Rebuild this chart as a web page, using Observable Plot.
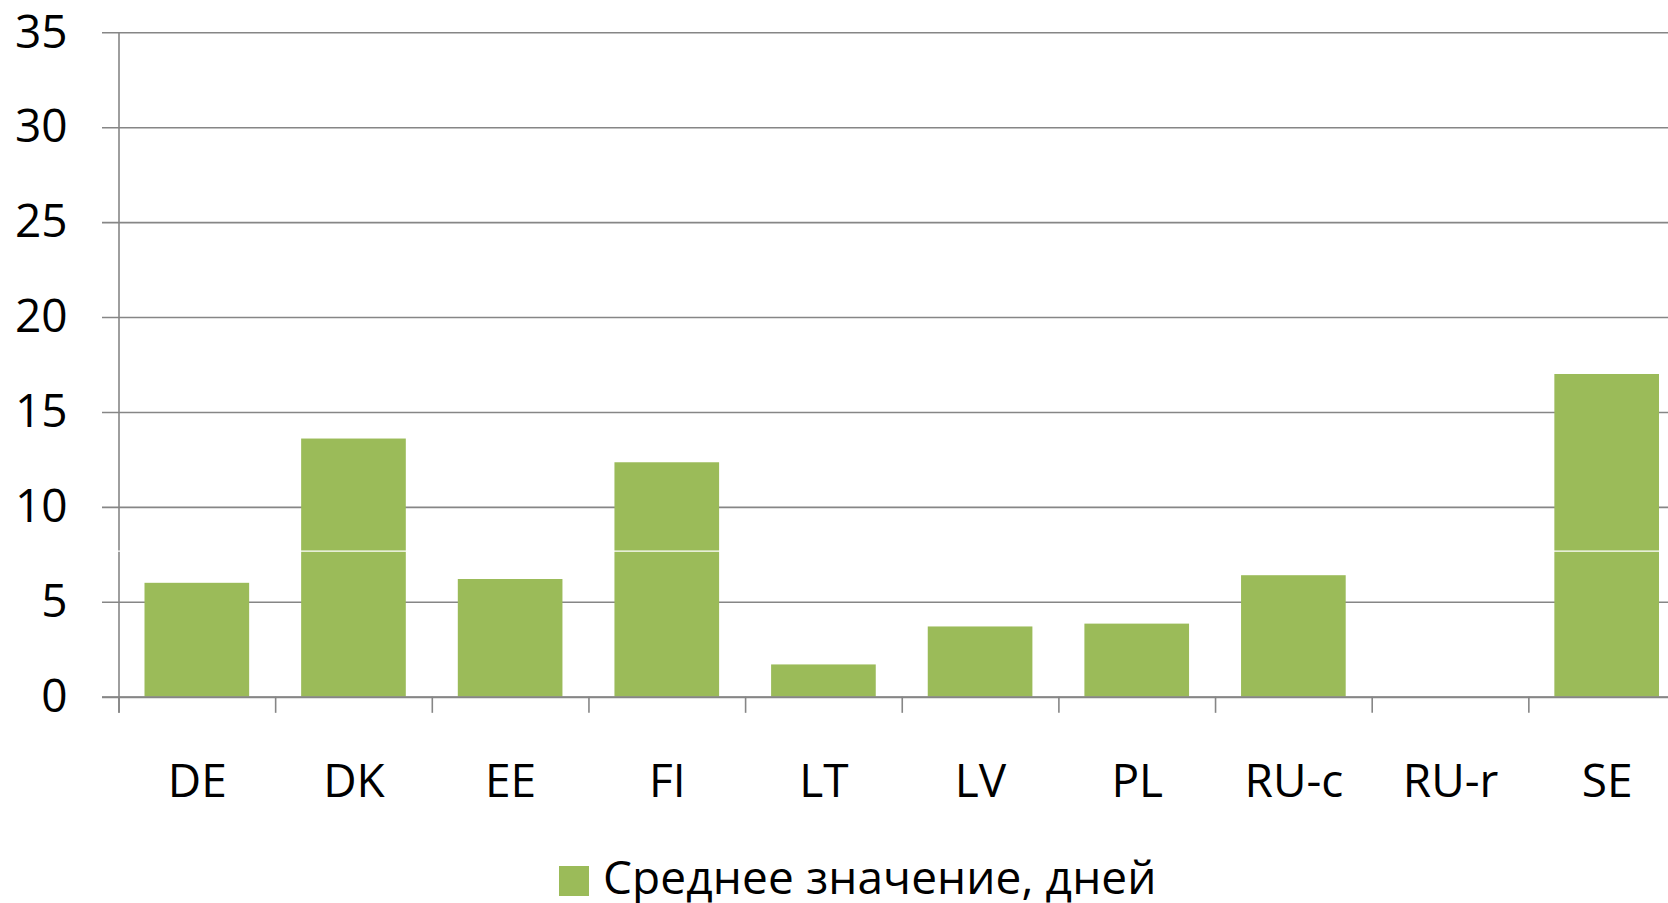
<!DOCTYPE html>
<html>
<head>
<meta charset="utf-8">
<script src="https://cdn.jsdelivr.net/npm/d3@7"></script>
<script src="https://cdn.jsdelivr.net/npm/@observablehq/plot@0.6"></script>
<style>
  html, body { margin: 0; padding: 0; background: #ffffff; }
  body { font-family: "Open Sans", sans-serif; width: 1668px; }
  #chart svg { display: block; }
  #legend { display: flex; align-items: flex-start; padding-left: 559px; height: 53px; }
  #legend .swatch { width: 30px; height: 30px; margin-top: 16px; margin-right: 14px; }
  #legend .label { font-size: 46px; line-height: 46px; margin-top: 3px; color: #000; white-space: nowrap; letter-spacing: 0.1px; }
</style>
</head>
<body>
<div id="chart"></div>
<div id="legend"></div>
<script>
// ---- data ----
const categories = ["DE", "DK", "EE", "FI", "LT", "LV", "PL", "RU-c", "RU-r", "SE"];
const values = [6.0, 13.6, 6.2, 12.35, 1.7, 3.7, 3.85, 6.4, 0, 17.0];
const yTicks = [0, 5, 10, 15, 20, 25, 30, 35];
const seriesName = "Среднее значение, дней";
const seamLine = [7.7]; // thin white seam visible across the reference image

const barColor = "#9BBB59";
const gridColor = "#868686";

const data = categories.map((c, i) => ({category: c, value: values[i]}));

const W = 1668, H = 850;
const yZero = 696.7, yTop = 32.3;
const xRange = [118.5, 1685];
const step = (xRange[1] - xRange[0]) / categories.length;

const chart = Plot.plot({
  width: W,
  height: H,
  marginLeft: 102,
  marginRight: 0,
  marginTop: yTop,
  marginBottom: H - yZero,
  style: {fontFamily: "'Open Sans', sans-serif", fontSize: "46px", color: "#000", background: "#fff", overflow: "hidden"},
  x: {type: "band", domain: categories, range: xRange, padding: 0, round: false},
  y: {domain: [0, 35], range: [yZero, yTop]},
  marks: [
    Plot.gridY(yTicks, {stroke: gridColor, strokeOpacity: 1, strokeWidth: 1.6}),
    Plot.barY(data, {x: "category", y: "value", fill: barColor, insetLeft: 26, insetRight: 26}),
    Plot.ruleY([0], {stroke: gridColor, strokeWidth: 2}),
    Plot.ruleX(categories, {x: d => d, dx: -step / 2, y1: -0.85, y2: 0, stroke: gridColor, strokeWidth: 1.6}),
    Plot.ruleX([categories[0]], {x: d => d, dx: -step / 2, y1: -0.85, y2: 35, stroke: gridColor, strokeWidth: 1.6}),
    Plot.ruleY(seamLine, {stroke: "#ffffff", strokeWidth: 1.3}),
    Plot.axisY(yTicks, {anchor: "left", tickSize: 0, tickPadding: 35, label: null, fontSize: 46, fill: "#000"}),
    Plot.axisX({anchor: "bottom", tickSize: 0, tickPadding: 67.6, label: null, fontSize: 46, fill: "#000"})
  ]
});
document.getElementById("chart").appendChild(chart);

const legend = document.getElementById("legend");
const sw = document.createElement("div");
sw.className = "swatch";
sw.style.background = barColor;
const lb = document.createElement("div");
lb.className = "label";
lb.textContent = seriesName;
legend.appendChild(sw);
legend.appendChild(lb);
</script>
</body>
</html>
